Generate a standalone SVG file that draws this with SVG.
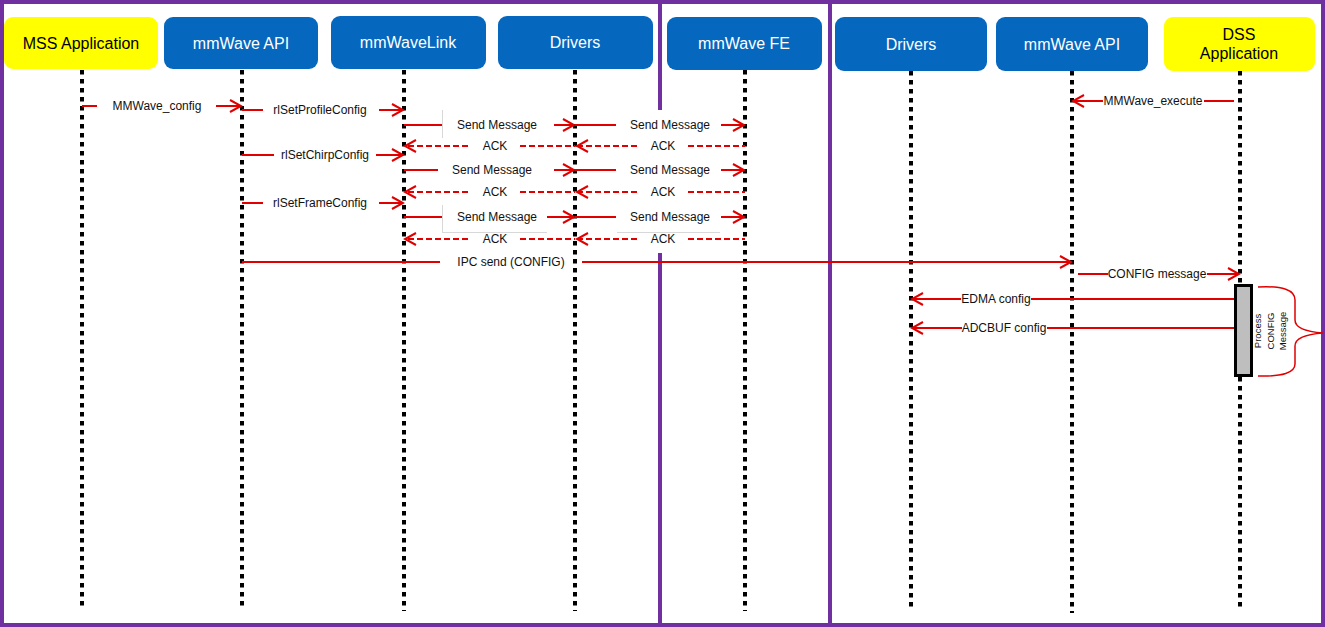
<svg xmlns="http://www.w3.org/2000/svg" width="1325" height="627" viewBox="0 0 1325 627">
<style>
.hdr{stroke:none}
.blue{fill:#0567BD}
.yel{fill:#FFFF00}
.ht{font-family:"Liberation Sans",Arial,sans-serif;font-size:16px;text-anchor:middle}
.hw{fill:#FFFFFF}
.hb{fill:#000000}
.life{stroke:#000;stroke-width:4;stroke-dasharray:4.5 4.5;fill:none}
.msg{stroke:#E00000;stroke-width:2;fill:none}
.dash{stroke:#E00000;stroke-width:2;fill:none;stroke-dasharray:6 3}
.lbl{font-family:"Liberation Sans",Arial,sans-serif;font-size:12px;text-anchor:middle;fill:#111}
.div{stroke:#7030A0;stroke-width:4;fill:none}
.ghost{stroke:#D8D8D8;stroke-width:1;fill:none}
</style>
<defs>
<marker id="ah" markerUnits="userSpaceOnUse" markerWidth="14" markerHeight="14" refX="12" refY="7" orient="auto">
<path d="M1,1 L12,7 L1,13" fill="none" stroke="#E00000" stroke-width="2"/>
</marker>
</defs>
<rect x="0" y="0" width="1325" height="627" fill="#FFFFFF"/>

<g id="frame">
<rect x="2" y="2" width="1321" height="623" class="div"/>
<line x1="660" y1="0" x2="660" y2="110" class="div"/>
<line x1="660" y1="253" x2="660" y2="627" class="div"/>
<line x1="830" y1="0" x2="830" y2="627" class="div"/>
</g>

<g id="node-mss-app">
<rect x="4" y="17" width="154" height="52" rx="9" class="hdr yel"/>
<text x="81" y="49" class="ht hb">MSS Application</text>
<line x1="82" y1="70" x2="82" y2="610" class="life"/>
</g>
<g id="node-mss-api">
<rect x="164" y="17" width="154" height="52" rx="9" class="hdr blue"/>
<text x="241" y="49" class="ht hw">mmWave API</text>
<line x1="242" y1="70" x2="242" y2="610" class="life"/>
</g>
<g id="node-mmwavelink">
<rect x="331" y="16" width="155" height="53" rx="9" class="hdr blue"/>
<text x="408" y="48" class="ht hw">mmWaveLink</text>
<line x1="404" y1="70" x2="404" y2="611" class="life"/>
</g>
<g id="node-mss-drivers">
<rect x="498" y="16" width="155" height="53" rx="9" class="hdr blue"/>
<text x="575" y="48" class="ht hw">Drivers</text>
<line x1="575" y1="70" x2="575" y2="611" class="life"/>
</g>
<g id="node-mmwave-fe">
<rect x="667" y="17" width="155" height="53" rx="9" class="hdr blue"/>
<text x="744" y="49" class="ht hw">mmWave FE</text>
<line x1="745" y1="70" x2="745" y2="611" class="life"/>
</g>
<g id="node-dss-drivers">
<rect x="835" y="17" width="152" height="54" rx="9" class="hdr blue"/>
<text x="911" y="50" class="ht hw">Drivers</text>
<line x1="911" y1="71" x2="911" y2="611" class="life"/>
</g>
<g id="node-dss-api">
<rect x="996" y="17" width="152" height="54" rx="9" class="hdr blue"/>
<text x="1072" y="50" class="ht hw">mmWave API</text>
<line x1="1072" y1="71" x2="1072" y2="613" class="life"/>
</g>
<g id="node-dss-app">
<rect x="1164" y="17" width="151" height="54" rx="9" class="hdr yel"/>
<text x="1239" y="40" class="ht hb">DSS</text>
<text x="1239" y="59" class="ht hb">Application</text>
<line x1="1240" y1="71" x2="1240" y2="611" class="life"/>
</g>

<g id="ghost-boxes">
<line x1="442.5" y1="110" x2="442.5" y2="138" class="ghost"/>
<line x1="442.5" y1="205" x2="442.5" y2="232" class="ghost"/>
<line x1="442" y1="232.5" x2="547" y2="232.5" class="ghost"/>
<line x1="617" y1="232.5" x2="720" y2="232.5" class="ghost"/>
</g>

<g id="connectors">
<!-- MMWave_config -->
<line x1="82" y1="106" x2="97" y2="106" class="msg"/>
<line x1="216" y1="106" x2="241" y2="106" class="msg" marker-end="url(#ah)"/>
<text x="157" y="110" class="lbl">MMWave_config</text>
<!-- rlSetProfileConfig -->
<line x1="242" y1="110" x2="263" y2="110" class="msg"/>
<line x1="379" y1="110" x2="403" y2="110" class="msg" marker-end="url(#ah)"/>
<text x="320" y="114" class="lbl">rlSetProfileConfig</text>
<!-- Send Message 1 -->
<line x1="404" y1="125" x2="442" y2="125" class="msg"/>
<line x1="554" y1="125" x2="574" y2="125" class="msg" marker-end="url(#ah)"/>
<text x="497" y="129" class="lbl">Send Message</text>
<line x1="575" y1="125" x2="616" y2="125" class="msg"/>
<line x1="721" y1="125" x2="744" y2="125" class="msg" marker-end="url(#ah)"/>
<text x="670" y="129" class="lbl">Send Message</text>
<!-- ACK 1 -->
<line x1="468" y1="146" x2="405" y2="146" class="dash" marker-end="url(#ah)"/>
<line x1="520" y1="146" x2="575" y2="146" class="dash"/>
<text x="495" y="150" class="lbl">ACK</text>
<line x1="637" y1="146" x2="577" y2="146" class="dash" marker-end="url(#ah)"/>
<line x1="688" y1="146" x2="745" y2="146" class="dash"/>
<text x="663" y="150" class="lbl">ACK</text>
<!-- rlSetChirpConfig -->
<line x1="242" y1="155" x2="274" y2="155" class="msg"/>
<line x1="376" y1="155" x2="403" y2="155" class="msg" marker-end="url(#ah)"/>
<text x="325" y="159" class="lbl">rlSetChirpConfig</text>
<!-- Send Message 2 -->
<line x1="404" y1="170" x2="438" y2="170" class="msg"/>
<line x1="554" y1="170" x2="574" y2="170" class="msg" marker-end="url(#ah)"/>
<text x="492" y="174" class="lbl">Send Message</text>
<line x1="575" y1="170" x2="616" y2="170" class="msg"/>
<line x1="721" y1="170" x2="744" y2="170" class="msg" marker-end="url(#ah)"/>
<text x="670" y="174" class="lbl">Send Message</text>
<!-- ACK 2 -->
<line x1="468" y1="192" x2="405" y2="192" class="dash" marker-end="url(#ah)"/>
<line x1="520" y1="192" x2="575" y2="192" class="dash"/>
<text x="495" y="196" class="lbl">ACK</text>
<line x1="637" y1="192" x2="577" y2="192" class="dash" marker-end="url(#ah)"/>
<line x1="688" y1="192" x2="745" y2="192" class="dash"/>
<text x="663" y="196" class="lbl">ACK</text>
<!-- rlSetFrameConfig -->
<line x1="242" y1="203" x2="263" y2="203" class="msg"/>
<line x1="379" y1="203" x2="403" y2="203" class="msg" marker-end="url(#ah)"/>
<text x="320" y="207" class="lbl">rlSetFrameConfig</text>
<!-- Send Message 3 -->
<line x1="404" y1="217" x2="442" y2="217" class="msg"/>
<line x1="547" y1="217" x2="574" y2="217" class="msg" marker-end="url(#ah)"/>
<text x="497" y="221" class="lbl">Send Message</text>
<line x1="575" y1="217" x2="616" y2="217" class="msg"/>
<line x1="721" y1="217" x2="744" y2="217" class="msg" marker-end="url(#ah)"/>
<text x="670" y="221" class="lbl">Send Message</text>
<!-- ACK 3 -->
<line x1="468" y1="239" x2="405" y2="239" class="dash" marker-end="url(#ah)"/>
<line x1="520" y1="239" x2="575" y2="239" class="dash"/>
<text x="495" y="243" class="lbl">ACK</text>
<line x1="637" y1="239" x2="577" y2="239" class="dash" marker-end="url(#ah)"/>
<line x1="688" y1="239" x2="745" y2="239" class="dash"/>
<text x="663" y="243" class="lbl">ACK</text>
<!-- IPC send -->
<line x1="242" y1="262" x2="440" y2="262" class="msg"/>
<line x1="582" y1="262" x2="1071" y2="262" class="msg" marker-end="url(#ah)"/>
<text x="511" y="266" class="lbl">IPC send (CONFIG)</text>
<!-- MMWave_execute -->
<line x1="1234" y1="101" x2="1073" y2="101" class="msg" marker-end="url(#ah)"/>
<rect x="1103" y="94" width="101" height="14" fill="#FFFFFF"/>
<text x="1153" y="105" class="lbl">MMWave_execute</text>
<!-- CONFIG message -->
<line x1="1078" y1="274" x2="1239" y2="274" class="msg" marker-end="url(#ah)"/>
<rect x="1108" y="267" width="99" height="14" fill="#FFFFFF"/>
<text x="1157" y="278" class="lbl">CONFIG message</text>
<!-- EDMA config -->
<line x1="1235" y1="299" x2="912" y2="299" class="msg" marker-end="url(#ah)"/>
<rect x="961" y="292" width="70" height="14" fill="#FFFFFF"/>
<text x="996" y="303" class="lbl">EDMA config</text>
<!-- ADCBUF config -->
<line x1="1235" y1="328" x2="912" y2="328" class="msg" marker-end="url(#ah)"/>
<rect x="962" y="321" width="85" height="14" fill="#FFFFFF"/>
<text x="1004" y="332" class="lbl">ADCBUF config</text>
</g>

<g id="node-process-config">
<rect x="1235.5" y="285.5" width="16" height="90" fill="#BEBEBE" stroke="#000" stroke-width="3"/>
<g transform="translate(1261,331) rotate(-90)">
<text x="0" y="0" font-family="'Liberation Sans',Arial,sans-serif" font-size="9.5" text-anchor="middle" fill="#111">Process<tspan x="0" dy="13">CONFIG</tspan><tspan x="0" dy="12">Message</tspan></text>
</g>
<path d="M1258,287 Q1295,285 1295,300 L1295,320 Q1295,331 1323,333 Q1295,335 1295,346 L1295,364 Q1295,377 1258,376" fill="none" stroke="#E00000" stroke-width="1.5"/>
</g>
</svg>
